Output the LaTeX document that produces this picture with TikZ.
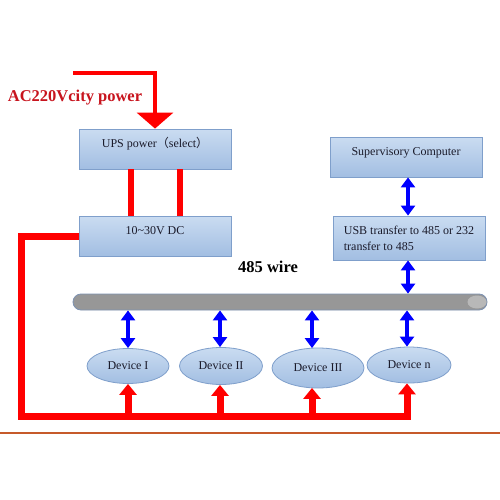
\documentclass[tikz,border=0pt]{standalone}
\usepackage{fontspec}
\setmainfont{Liberation Serif}
\newfontfamily\cjk{Noto Sans CJK SC}
\usetikzlibrary{arrows.meta,shapes.geometric,calc}
\definecolor{boxtop}{HTML}{CADCF1}
\definecolor{boxbot}{HTML}{A2BEE2}
\definecolor{boxline}{HTML}{7F9FCB}
\definecolor{acred}{HTML}{C8141E}
\definecolor{bargray}{HTML}{979797}
\definecolor{barcap}{HTML}{B8B8B8}
\definecolor{barline}{HTML}{7D92B2}
\definecolor{orangeline}{HTML}{C65A2A}
\definecolor{pblue}{HTML}{0000FF}
\definecolor{pred}{HTML}{FF0000}
\definecolor{txtcol}{HTML}{1A1A2A}
\tikzset{
  box/.style={rectangle, draw=boxline, line width=0.8pt, top color=boxtop, bottom color=boxbot,
    minimum width=152pt, minimum height=40pt, inner sep=0pt, text=txtcol, font=\fontsize{12}{14}\selectfont},
  boxtxt/.style={box, text height=8.3pt, text depth=10.7pt},
  dev/.style={ellipse, draw=boxline, line width=0.8pt, top color=boxtop, bottom color=boxbot,
    inner sep=0pt, text=txtcol, font=\fontsize{12}{14}\selectfont},
  bluearrow/.style={draw=pblue, line width=3.5pt,
    {Triangle[width=14pt,length=10pt]}-{Triangle[width=14pt,length=10pt]}},
  redarrow/.style={draw=pred, line width=7pt, -{Triangle[width=17pt,length=11pt]}},
  redline/.style={draw=pred, line join=miter},
  bigtext/.style={font=\fontsize{16.5}{18}\selectfont\bfseries}
}
\begin{document}
\begin{tikzpicture}[x=1pt,y=-1pt]
\useasboundingbox (0,0) rectangle (500,500);
\fill[white] (0,0) rectangle (500,500);

% boxes
\node[boxtxt] (ups) at (155,149) {UPS power{\cjk （}select{\cjk ）}};
\node[boxtxt] (dc) at (155,236) {10\char`~30V DC};
\node[boxtxt] (sup) at (406,157) {Supervisory Computer};
\node[box, minimum height=44pt, align=left] (usb) at (409,238) {USB transfer to 485 or 232\\[2pt]transfer to 485};

% bus bar
\node[rectangle, rounded corners=8pt, draw=barline, line width=0.8pt, fill=bargray,
  minimum width=414pt, minimum height=16pt, inner sep=0pt] (bus) at (280,302) {};
\fill[barcap] (477,302) ellipse (9.5pt and 6.5pt);

% devices
\node[dev, minimum width=82pt, minimum height=35pt] (d1) at (128,366) {Device I};
\node[dev, minimum width=83pt, minimum height=37pt] (d2) at (221,366) {Device II};
\node[dev, minimum width=92pt, minimum height=40pt] (d3) at (318,368) {Device III};
\node[dev, minimum width=84pt, minimum height=36pt] (d4) at (409,365) {Device n};

% texts
\node[bigtext, text=acred] (actext) at (75,98) {AC220Vcity power};
\node[bigtext] (wire) at (268,267) {485 wire};

% AC input arrow
\coordinate (acstart) at (73,73);
\draw[redline, line width=3.5pt, -{Triangle[width=36pt,length=16pt]}] (acstart) -| (ups.north);

% UPS to DC
\draw[redline, line width=6pt] ($(ups.south)+(-24,0)$) -- ($(dc.north)+(-24,0)$);
\draw[redline, line width=6pt] ($(ups.south)+(25,0)$) -- ($(dc.north)+(25,0)$);

% power loop
\coordinate (c1) at (21,236);
\coordinate (c2) at (21,416.5);
\coordinate (c3) at (411,416.5);
\draw[redline, line width=7pt] (dc.west) -- (c1) -- (c2) -- (c3);

% arrow positions
\coordinate (x1) at (128,0);
\coordinate (x2) at (220,0);
\coordinate (x3) at (312,0);
\coordinate (x4) at (407,0);

% red arrows up to devices
\draw[redarrow] (x1 |- c2) -- (x1 |- d1.south);
\draw[redarrow] (x2 |- c2) -- (x2 |- d2.south);
\draw[redarrow] (x3 |- c2) -- ($(x3 |- d3.south)+(0,-0.5)$);
\draw[redarrow] (x4 |- c2) -- (x4 |- d4.south);

% blue arrows
\draw[bluearrow] (x1 |- bus.south) -- (x1 |- d1.north);
\draw[bluearrow] (x2 |- bus.south) -- (x2 |- d2.north);
\draw[bluearrow] (x3 |- bus.south) -- ($(x3 |- d3.north)+(0,0.5)$);
\draw[bluearrow] (x4 |- bus.south) -- (x4 |- d4.north);
\coordinate (xs) at (408,0);
\draw[bluearrow] (xs |- sup.south) -- (xs |- usb.north);
\draw[bluearrow] (xs |- usb.south) -- (xs |- bus.north);

% bottom orange line
\coordinate (o1) at (0,433);
\coordinate (o2) at (500,433);
\draw[draw=orangeline, line width=1.3pt] (o1) -- (o2);
\end{tikzpicture}
\end{document}
